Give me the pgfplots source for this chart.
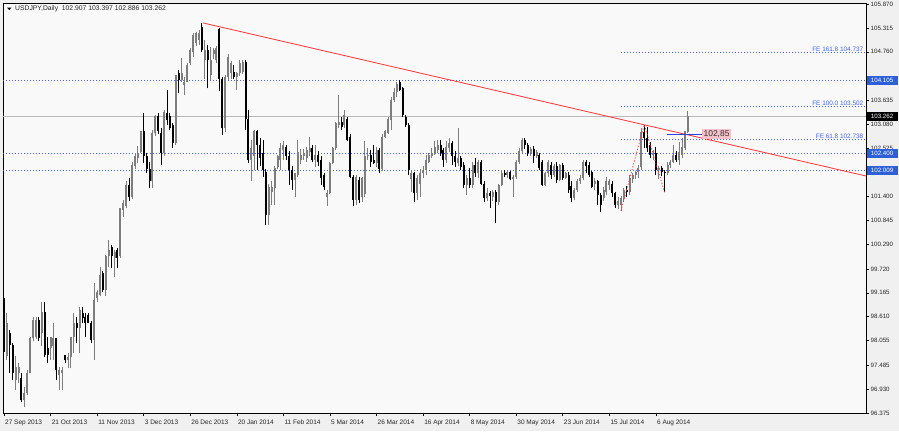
\documentclass[border=0pt]{standalone}
\usepackage{pgfplots}
\pgfplotsset{compat=1.18}
\usepackage{pgfplotstable}
\usepackage{fontspec}
\setmainfont{Liberation Sans}
\definecolor{bgout}{RGB}{240,240,240}
\definecolor{bgin}{RGB}{249,249,249}
\definecolor{lvlblue}{RGB}{70,100,235}
\definecolor{boxblue}{RGB}{45,95,215}
\definecolor{segblue}{RGB}{35,65,225}
\definecolor{candlegray}{RGB}{125,125,125}
\definecolor{trendred}{RGB}{255,50,50}
\definecolor{pinkbox}{RGB}{246,192,200}
\definecolor{pricegray}{RGB}{185,185,185}

\pgfplotstableread{
i O H L C
0 99.00 99.05 97.80 97.85
1 97.70 98.70 97.60 98.46
2 98.23 98.30 97.30 97.95
3 97.95 98.00 97.14 97.30
4 97.14 97.69 96.91 97.45
5 97.30 97.53 97.06 97.45
6 97.18 97.30 96.64 96.68
7 96.68 96.99 96.52 96.83
8 96.83 97.37 96.79 97.30
9 97.30 98.15 97.30 98.11
10 98.11 98.60 98.05 98.54
11 98.15 98.60 98.10 98.54
12 98.54 98.60 98.05 98.11
13 98.23 98.96 97.92 98.73
14 98.73 98.96 97.68 97.72
15 97.88 98.15 97.53 97.72
16 97.88 98.15 97.61 98.15
17 97.92 98.46 97.61 98.11
18 98.11 98.11 97.14 97.37
19 97.26 97.45 96.91 97.37
20 97.30 97.45 96.91 97.37
21 97.72 97.72 97.53 97.61
22 97.61 97.76 97.41 97.68
23 97.68 98.15 97.41 98.15
24 98.15 98.69 97.76 98.46
25 98.46 98.61 97.99 98.34
26 98.34 98.84 97.76 98.77
27 98.69 98.84 98.46 98.57
28 98.61 98.69 98.15 98.46
29 98.65 98.69 98.46 98.46
30 98.46 98.50 97.99 98.07
31 98.07 99.39 97.61 99.00
32 99.04 99.23 98.96 99.19
33 99.12 99.77 99.08 99.58
34 99.62 99.66 99.19 99.23
35 99.23 100.05 99.08 100.01
36 100.01 100.39 99.77 100.16
37 100.24 100.28 99.73 100.01
38 99.97 100.16 99.54 100.12
39 100.16 100.20 99.73 99.97
40 100.01 101.13 99.97 101.13
41 101.09 101.32 100.93 101.24
42 101.17 101.75 101.13 101.67
43 101.67 101.82 101.30 101.40
44 101.40 102.20 101.35 102.13
45 102.10 102.40 102.05 102.33
46 102.29 102.58 102.17 102.40
47 102.44 102.91 102.40 102.91
48 102.91 103.33 102.17 102.33
49 102.33 102.40 101.95 102.05
50 102.05 102.20 101.59 101.75
51 101.75 102.95 101.59 102.87
52 102.87 103.30 102.80 103.26
53 103.26 103.35 102.85 102.91
54 102.87 102.98 102.13 102.40
55 102.40 103.40 102.35 103.37
56 103.33 103.87 103.06 103.18
57 103.26 103.35 102.95 102.98
58 103.06 103.10 102.52 102.64
59 102.64 104.22 102.60 104.22
60 104.26 104.34 103.80 104.11
61 104.10 104.61 104.05 104.26
62 103.99 104.18 103.76 104.07
63 104.07 104.50 104.05 104.45
64 104.50 104.84 104.45 104.80
65 104.76 105.19 104.65 105.15
66 104.96 105.22 104.90 105.19
67 105.03 105.27 104.92 105.19
68 105.34 105.43 104.76 104.80
69 104.57 105.03 104.14 104.80
70 104.80 104.92 103.91 104.57
71 104.22 104.88 104.11 104.57
72 104.72 104.85 104.60 104.80
73 104.57 104.90 104.50 104.84
74 105.30 105.31 103.84 104.14
75 104.14 104.18 102.83 102.98
76 102.98 104.22 102.90 104.18
77 104.18 104.72 104.11 104.65
78 104.26 104.55 104.14 104.49
79 104.30 104.45 104.14 104.18
80 104.18 104.30 103.87 104.26
81 104.26 104.57 104.20 104.49
82 104.30 104.57 104.25 104.53
83 104.53 104.57 102.95 103.20
84 103.20 103.41 102.17 102.25
85 102.25 102.71 101.75 102.52
86 102.33 102.95 102.02 102.91
87 102.91 102.95 102.02 102.60
88 102.60 102.75 102.10 102.30
89 102.40 102.71 101.86 102.02
90 101.98 102.05 100.74 100.97
91 100.97 101.70 100.74 101.63
92 101.50 101.75 101.20 101.63
93 101.59 102.10 101.20 102.06
94 102.09 102.37 102.05 102.33
95 102.25 102.64 102.02 102.52
96 102.48 102.68 102.25 102.60
97 102.56 102.60 102.25 102.33
98 102.33 102.45 101.67 102.02
99 102.02 102.10 101.55 101.78
100 101.78 101.95 101.40 101.94
101 101.90 102.71 101.85 102.44
102 102.25 102.50 102.15 102.37
103 102.33 102.50 102.25 102.40
104 102.29 102.55 102.20 102.48
105 102.44 102.79 102.35 102.52
106 102.52 102.60 102.20 102.25
107 102.25 102.60 102.09 102.37
108 102.37 102.45 102.10 102.21
109 102.25 102.35 101.67 101.82
110 101.90 101.95 101.55 101.63
111 101.40 101.55 101.17 101.48
112 101.48 102.21 101.45 102.17
113 102.17 102.55 102.15 102.52
114 102.52 103.14 102.48 103.10
115 103.06 103.76 103.00 103.14
116 103.14 103.25 102.95 103.02
117 103.06 103.41 103.00 103.29
118 103.20 103.25 102.68 102.71
119 102.79 102.85 101.82 101.86
120 101.86 101.90 101.17 101.32
121 101.32 101.90 101.20 101.86
122 101.78 101.85 101.24 101.32
123 101.40 101.85 101.28 101.82
124 101.45 102.68 101.40 102.33
125 102.33 102.52 102.25 102.37
126 102.37 102.48 102.09 102.21
127 102.25 102.60 102.15 102.17
128 102.17 102.55 102.09 102.48
129 102.48 102.52 101.94 102.05
130 102.05 102.85 102.00 102.79
131 102.79 102.95 102.75 102.91
132 102.87 103.25 102.85 103.21
133 103.18 103.72 102.95 103.64
134 103.64 103.91 103.60 103.83
135 103.83 104.05 103.72 104.02
136 104.06 104.11 103.85 103.87
137 103.91 103.95 103.25 103.29
138 103.25 103.29 103.02 103.06
139 103.06 103.10 101.90 102.02
140 101.80 102.02 101.51 101.94
141 101.94 101.98 101.28 101.48
142 101.48 101.90 101.32 101.82
143 101.70 102.05 101.40 101.94
144 101.94 102.10 101.82 102.02
145 102.02 102.37 101.90 102.25
146 102.21 102.40 102.17 102.37
147 102.33 102.52 102.29 102.40
148 102.40 102.68 102.37 102.56
149 102.48 102.71 102.40 102.60
150 102.60 102.71 102.33 102.40
151 102.48 102.52 102.09 102.25
152 102.25 102.68 102.17 102.56
153 102.52 102.75 102.44 102.64
154 102.64 102.68 102.13 102.33
155 102.33 102.45 102.09 102.21
156 102.17 102.98 102.10 102.29
157 102.29 102.35 102.02 102.09
158 102.13 102.20 101.60 101.67
159 101.67 101.90 101.44 101.82
160 101.82 102.06 101.60 101.67
161 101.67 102.21 101.59 102.13
162 102.13 102.29 101.85 101.95
163 101.95 102.25 101.82 102.21
164 102.21 102.25 101.66 101.70
165 101.70 101.75 101.28 101.36
166 101.36 101.59 101.30 101.48
167 101.48 101.52 101.13 101.42
168 101.40 101.55 101.30 101.51
169 101.51 101.55 100.78 101.28
170 101.28 101.70 101.20 101.67
171 101.67 102.02 101.65 101.95
172 101.95 102.02 101.85 101.90
173 101.90 102.00 101.82 101.98
174 101.98 102.00 101.78 101.80
175 101.80 101.90 101.40 101.85
176 101.85 102.25 101.80 102.21
177 102.21 102.52 102.15 102.45
178 102.45 102.75 102.40 102.71
179 102.71 102.77 102.50 102.60
180 102.60 102.65 102.35 102.40
181 102.40 102.55 102.35 102.50
182 102.50 102.58 102.18 102.33
183 102.33 102.48 102.30 102.44
184 102.37 102.40 102.02 102.06
185 102.21 102.25 101.64 101.67
186 101.67 101.98 101.65 101.95
187 101.95 102.25 101.85 102.21
188 102.13 102.20 101.80 101.90
189 101.90 102.15 101.85 102.10
190 102.10 102.20 101.72 101.78
191 101.78 102.15 101.75 102.13
192 102.13 102.17 101.78 101.82
193 101.82 101.98 101.80 101.95
194 101.90 101.98 101.48 101.55
195 101.65 101.75 101.28 101.36
196 101.36 101.60 101.32 101.55
197 101.55 101.80 101.50 101.75
198 101.75 101.90 101.70 101.82
199 101.82 102.25 101.78 102.21
200 102.21 102.25 101.95 102.10
201 102.13 102.20 101.85 101.90
202 101.98 102.00 101.59 101.63
203 101.70 101.82 101.55 101.75
204 101.75 101.78 101.21 101.44
205 101.44 101.48 101.05 101.21
206 101.36 101.63 101.30 101.55
207 101.51 101.85 101.44 101.75
208 101.67 101.80 101.55 101.75
209 101.70 101.75 101.40 101.48
210 101.48 101.50 101.13 101.21
211 101.21 101.40 101.10 101.30
212 101.21 101.42 101.07 101.36
213 101.36 101.60 101.30 101.55
214 101.55 101.65 101.40 101.51
215 101.51 101.90 101.44 101.82
216 101.80 101.95 101.72 101.90
217 101.90 102.00 101.80 101.98
218 101.98 102.13 101.82 102.06
219 102.09 103.00 102.02 102.90
220 102.90 103.07 102.52 102.75
221 102.75 103.02 102.44 102.52
222 102.60 102.67 102.29 102.37
223 102.37 102.48 102.25 102.40
224 102.40 102.56 101.90 102.02
225 102.02 102.10 101.80 102.06
226 102.06 102.10 101.88 101.98
227 101.98 102.02 101.50 101.95
228 101.95 102.20 101.90 102.13
229 102.13 102.25 102.06 102.21
230 102.21 102.60 102.17 102.37
231 102.37 102.45 102.20 102.25
232 102.25 102.67 102.13 102.44
233 102.37 102.75 102.29 102.56
234 102.52 102.91 102.48 102.91
235 102.907 103.397 102.886 103.262
}\bars

\begin{document}
\begin{tikzpicture}[font=\fontsize{6.5}{7.5}\selectfont]
\fill[bgout] (-3pt,-18pt) rectangle (896pt,413pt);
\begin{axis}[
  at={(0pt,0pt)}, anchor=south west,
  width=863pt, height=410pt, scale only axis,
  xmin=-0.34, xmax=296.2, ymin=96.375, ymax=105.893,
  axis background/.style={fill=bgin},
  axis line style={black, line width=0.8pt},
  xtick={0,16,32,48,64,80,96,112,128,144,160,176,192,208,224},
  xticklabels={27 Sep 2013,21 Oct 2013,11 Nov 2013,3 Dec 2013,26 Dec 2013,20 Jan 2014,11 Feb 2014,5 Mar 2014,26 Mar 2014,16 Apr 2014,8 May 2014,30 May 2014,23 Jun 2014,15 Jul 2014,6 Aug 2014},
  ytick={96.375,96.930,97.485,98.055,98.610,99.165,99.720,100.290,100.845,101.400,102.525,103.080,103.635,104.760,105.315,105.870},
  yticklabels={96.375,96.930,97.485,98.055,98.610,99.165,99.720,100.290,100.845,101.400,102.525,103.080,103.635,104.760,105.315,105.870},
  xtick pos=left, ytick pos=right, yticklabel pos=right,
  tick align=outside, major tick length=3pt,
  tick style={black, line width=0.6pt},
  xticklabel style={anchor=north west, inner sep=0pt, xshift=1pt, yshift=-4pt, font=\fontsize{6.5}{7.5}\selectfont, text=black!85},
  yticklabel style={anchor=west, inner sep=0pt, xshift=1.5pt, font=\fontsize{6.2}{7}\selectfont, text=black!85},
  clip=false,
]
% horizontal levels
\addplot[pricegray, line width=0.7pt] coordinates {(-0.34,103.262) (296.2,103.262)};
\addplot[lvlblue, line width=0.7pt, dash pattern=on 1.3pt off 1.7pt] coordinates {(-0.34,104.105) (296.2,104.105)};
\addplot[lvlblue, line width=0.7pt, dash pattern=on 1.3pt off 1.7pt] coordinates {(-0.34,102.400) (296.2,102.400)};
\addplot[lvlblue, line width=0.7pt, dash pattern=on 1.3pt off 1.7pt] coordinates {(-0.34,102.009) (296.2,102.009)};
\addplot[lvlblue, line width=0.7pt, dash pattern=on 1.3pt off 1.7pt] coordinates {(212,104.737) (296.2,104.737)};
\addplot[lvlblue, line width=0.7pt, dash pattern=on 1.3pt off 1.7pt] coordinates {(212,103.502) (296.2,103.502)};
\addplot[lvlblue, line width=0.7pt, dash pattern=on 1.3pt off 1.7pt] coordinates {(212,102.738) (296.2,102.738)};
% candles: up (gray)
\addplot[candlegray, line width=0.9pt, line cap=butt, mark=none, -,
  quiver={u=0, v={(\thisrow{C}>=\thisrow{O})*(\thisrow{H}-\thisrow{L})}}]
  table[x=i, y=L] {\bars};
\addplot[candlegray, line width=2pt, line cap=butt, mark=none, -,
  quiver={u=0, v={max(\thisrow{C}-\thisrow{O},0)}}]
  table[x=i, y=O] {\bars};
% candles: down (black)
\addplot[black, line width=0.9pt, line cap=butt, mark=none, -,
  quiver={u=0, v={(\thisrow{C}<\thisrow{O})*(\thisrow{H}-\thisrow{L})}}]
  table[x=i, y=L] {\bars};
\addplot[black, line width=2pt, line cap=butt, mark=none, -,
  quiver={u=0, v={max(\thisrow{O}-\thisrow{C},0)}}]
  table[x=i, y=C] {\bars};
% trend line
\addplot[trendred, line width=0.8pt] coordinates {(68.4,105.43) (296.2,101.877)};
% FE construction
\addplot[trendred, line width=0.8pt, dash pattern=on 1.2pt off 1.8pt] coordinates {(212,101.07) (220,103.07) (227,101.50)};
% 102.85 marker
\addplot[segblue, line width=1pt] coordinates {(227.8,102.85) (239.9,102.85)};
\coordinate (tl) at (rel axis cs:0,1);
\coordinate (b104) at (axis cs:296.2,104.105);
\coordinate (b103) at (axis cs:296.2,103.262);
\coordinate (b1024) at (axis cs:296.2,102.400);
\coordinate (b1020) at (axis cs:296.2,102.009);
\coordinate (fe1) at (axis cs:296.2,104.737);
\coordinate (fe2) at (axis cs:296.2,103.502);
\coordinate (fe3) at (axis cs:296.2,102.738);
\coordinate (lab) at (axis cs:239.9,102.85);
\end{axis}
% annotations
\fill[black] ([xshift=4pt,yshift=-4.5pt]tl) -- ++(4.5pt,0) -- ++(-2.25pt,-2.6pt) -- cycle;
\node[anchor=west, inner sep=0pt, font=\fontsize{6.8}{8}\selectfont, text=black!85] at ([xshift=12pt,yshift=-6pt]tl) {USDJPY,Daily\ \ 102.907 103.397 102.886 103.262};
\node[anchor=south east, inner sep=0.6pt, text=lvlblue, font=\fontsize{6.4}{7}\selectfont] at ([xshift=-2pt]fe1) {FE 161.8 104.737};
\node[anchor=south east, inner sep=0.6pt, text=lvlblue, font=\fontsize{6.4}{7}\selectfont] at ([xshift=-2pt]fe2) {FE 100.0 103.502};
\node[anchor=south east, inner sep=0.6pt, text=lvlblue, font=\fontsize{6.4}{7}\selectfont] at ([xshift=-2pt]fe3) {FE 61.8 102.738};
\node[anchor=west, fill=pinkbox, inner sep=1.2pt, minimum height=10.5pt, font=\fontsize{8.5}{9}\selectfont, text=black!80] at (lab) {102,85};
\node[anchor=west, fill=boxblue, text=white, inner sep=0pt, minimum height=9pt, minimum width=31pt, font=\fontsize{6.2}{7}\selectfont] at ([xshift=0.4pt]b104) {104.105};
\node[anchor=west, fill=black, text=white, inner sep=0pt, minimum height=9pt, minimum width=31pt, font=\fontsize{6.2}{7}\selectfont] at ([xshift=0.4pt]b103) {103.262};
\node[anchor=west, fill=boxblue, text=white, inner sep=0pt, minimum height=9pt, minimum width=31pt, font=\fontsize{6.2}{7}\selectfont] at ([xshift=0.4pt]b1024) {102.400};
\node[anchor=west, fill=boxblue, text=white, inner sep=0pt, minimum height=9pt, minimum width=31pt, font=\fontsize{6.2}{7}\selectfont] at ([xshift=0.4pt]b1020) {102.009};
\pgfresetboundingbox
\path[use as bounding box] (-3pt,-18pt) rectangle (896pt,413pt);
\end{tikzpicture}
\end{document}
